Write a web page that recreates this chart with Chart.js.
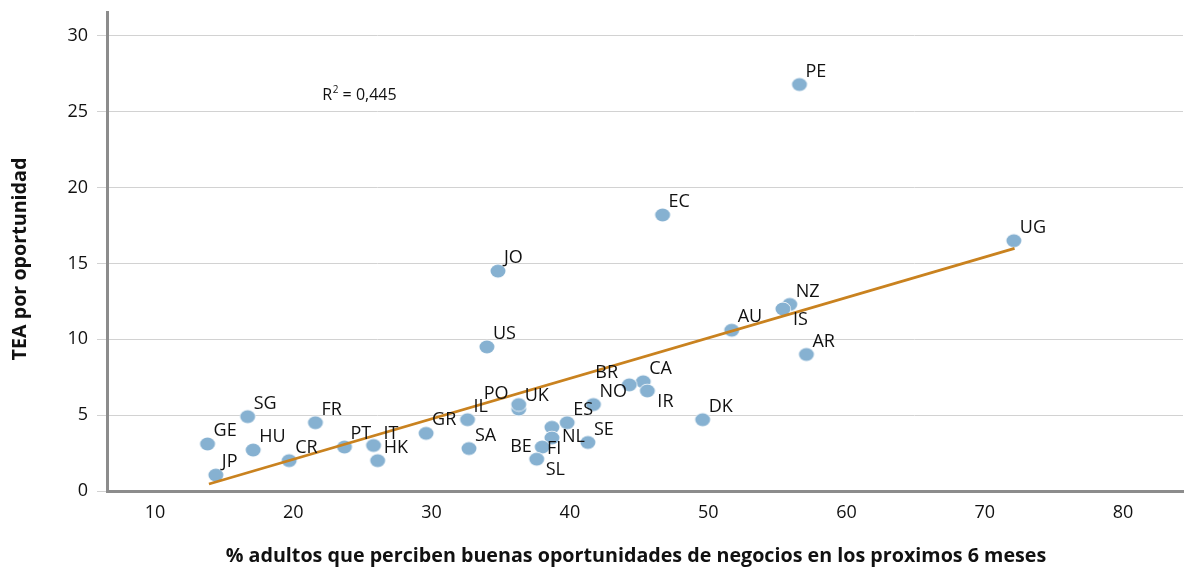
<!DOCTYPE html>
<html><head><meta charset="utf-8">
<script src="https://cdn.jsdelivr.net/npm/chart.js@4.4.0/dist/chart.umd.min.js"></script>
<style>html,body{margin:0;padding:0;background:#fff;}#wrap{width:1184px;height:567px;}</style>
</head><body><div id="wrap"><canvas id="c" width="1184" height="567"></canvas></div>
<script>
// ---- data ----
const countries = ['PE','EC','UG','JO','NZ','IS','AU','AR','US','CA','BR','IR','NO','DK','UK','PO','IL','GR','SA','ES','NL','FI','BE','SL','SE','SG','GE','HU','JP','CR','FR','PT','IT','HK'];
const xValues = [56.6,46.7,72.1,34.8,55.9,55.4,51.7,57.1,34.0,45.3,44.3,45.6,41.7,49.6,36.3,36.3,32.6,29.6,32.7,39.8,38.7,38.7,38.0,37.6,41.3,16.7,13.8,17.1,14.4,19.7,21.6,23.7,25.8,26.1];
const yValues = [26.8,18.2,16.5,14.5,12.3,12.0,10.6,9.0,9.5,7.2,7.0,6.6,5.7,4.7,5.4,5.7,4.7,3.8,2.8,4.5,4.2,3.5,2.9,2.1,3.2,4.9,3.1,2.7,1.05,2.0,4.5,2.9,3.0,2.0];
const xTicks = [10,20,30,40,50,60,70,80];
const yTicks = [0,5,10,15,20,25,30];
const trendX = [13.9,72.15];
const trendY = [0.46,16.0];
const r2Text = ['R','2',' = 0,445'];
const r2Pos = {x:22.1, y:26.1};
const xTitle = '% adultos que perciben buenas oportunidades de negocios en los proximos 6 meses';
const yTitle = 'TEA por oportunidad';

// ---- label placement (style only) ----
const defaultOffset = [6,-13];
const labelOffsets = {IS:[10,11], IR:[10,11], BR:[-34,-12], PO:[-35,-11], NL:[10,10], FI:[-5,11], BE:[-32,0], SL:[9,11], IT:[10,-12]};

function makeEllipse(){
  const c=document.createElement('canvas'); c.width=18; c.height=16;
  const g=c.getContext('2d');
  g.beginPath(); g.ellipse(9,8,8.2,7.2,0,0,Math.PI*2); g.fillStyle='#ffffff'; g.fill();
  g.beginPath(); g.ellipse(9,8,7.5,6.5,0,0,Math.PI*2); g.fillStyle='#86b1d1'; g.fill();
  return c;
}

const labelPlugin = {
  id:'labels',
  afterDatasetsDraw(chart){
    const ctx=chart.ctx;
    const meta=chart.getDatasetMeta(1);
    ctx.save();
    ctx.font='18px "Open Sans"';
    ctx.fillStyle='#111';
    ctx.textAlign='left'; ctx.textBaseline='middle';
    meta.data.forEach((el,i)=>{
      const name=countries[i];
      const o=labelOffsets[name]||defaultOffset;
      ctx.fillText(name, el.x+o[0], el.y+o[1]);
    });
    ctx.restore();
  },
  afterDraw(chart){
    const ctx=chart.ctx; const xs=chart.scales.x, ys=chart.scales.y;
    ctx.save();
    ctx.fillStyle='#111';
    let px=xs.getPixelForValue(r2Pos.x), py=ys.getPixelForValue(r2Pos.y);
    ctx.textBaseline='middle'; ctx.textAlign='left';
    ctx.font='16px "Open Sans"';
    ctx.fillText(r2Text[0],px,py); px+=ctx.measureText(r2Text[0]).width+0.5;
    ctx.font='10px "Open Sans"';
    ctx.fillText(r2Text[1],px,py-5); px+=ctx.measureText(r2Text[1]).width;
    ctx.font='16px "Open Sans"';
    ctx.fillText(r2Text[2],px,py);
    ctx.font='bold 19.7px "Open Sans"';
    ctx.textAlign='center';
    ctx.fillText(xTitle, 636, 556);
    ctx.translate(20,259); ctx.rotate(-Math.PI/2);
    ctx.fillText(yTitle,0,0);
    ctx.restore();
  }
};

function build(){
  const pts = xValues.map((x,i)=>({x, y:yValues[i]}));
  const trend = trendX.map((x,i)=>({x, y:trendY[i]}));
  new Chart(document.getElementById('c'),{
    type:'scatter',
    data:{datasets:[
      {type:'line', data:trend, borderColor:'#c9821f', borderWidth:2.8, pointRadius:0, fill:false, tension:0},
      {data:pts, pointStyle:makeEllipse(), pointRadius:8, pointHoverRadius:8}
    ]},
    options:{
      responsive:false, animation:false, devicePixelRatio:1,
      layout:{autoPadding:false, padding:{top:12,right:1,left:0,bottom:0}},
      plugins:{legend:{display:false}, tooltip:{enabled:false}},
      scales:{
        x:{type:'linear', min:6.53, max:84.33,
          afterBuildTicks:s=>{s.ticks=xTicks.map(v=>({value:v}));},
          afterFit:s=>{s.height=76; s.paddingLeft=0; s.paddingRight=0;},
          grid:{display:false, drawTicks:false},
          border:{display:true, color:'#8c8c8c', width:3},
          ticks:{padding:11, maxRotation:0, autoSkip:false, color:'#111', font:{family:'Open Sans', size:18}}
        },
        y:{type:'linear', min:0, max:31.58,
          afterBuildTicks:s=>{s.ticks=yTicks.map(v=>({value:v}));},
          afterFit:s=>{s.width=107; s.paddingTop=0; s.paddingBottom=0;},
          grid:{color:'#d2d2d2', lineWidth:1, tickLength:10, drawTicks:true},
          border:{display:true, color:'#8c8c8c', width:3},
          ticks:{padding:9, autoSkip:false, color:'#111', font:{family:'Open Sans', size:18}}
        }
      }
    },
    plugins:[labelPlugin]
  });
}
Promise.all([document.fonts.load('18px "Open Sans"'), document.fonts.load('bold 19.7px "Open Sans"')]).then(build, build);
</script>
</body></html>
